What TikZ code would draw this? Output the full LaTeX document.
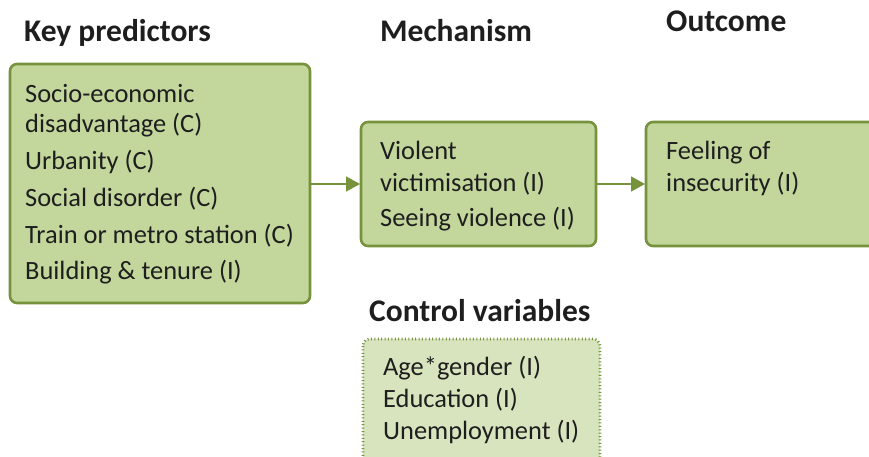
\documentclass[tikz,border=0pt]{standalone}
\usepackage{fontspec}
\setmainfont{Carlito}
\usetikzlibrary{arrows.meta}
\definecolor{boxfill}{HTML}{C3D69B}
\definecolor{boxline}{HTML}{76923C}
\definecolor{ctrlfill}{HTML}{D7E4BD}
\definecolor{ink}{HTML}{1E1E1E}
\tikzset{
  panel/.style={draw=boxline, line width=2.6pt, fill=boxfill, rounded corners=7pt},
  ctrlpanel/.style={draw=boxline, line width=2.6pt, fill=ctrlfill, rounded corners=7pt,
    dash pattern=on 1pt off 2.4pt},
  heading/.style={anchor=base west, inner sep=0pt, text=ink, font=\fontsize{31.5}{36}\selectfont\bfseries},
  item/.style={anchor=base west, inner sep=0pt, text=ink, font=\fontsize{26.4}{31}\selectfont},
  flow/.style={draw=boxline, line width=1.6pt, -{Triangle[length=14pt,width=15pt]}}
}
\begin{document}
\begin{tikzpicture}[x=1pt,y=-1pt]
\useasboundingbox (0,0) rectangle (869,457);

% headings
\node[heading] (hkey) at (24,42) {Key predictors};
\node[heading] (hmech) at (380,42) {Mechanism};
\node[heading] (hout) at (666,32) {Outcome};
\node[heading] (hctrl) at (369,321) {Control variables};

% panels
\path[panel] (10,64) rectangle (310,303);
\coordinate (keyE) at (310,184);
\path[panel] (361,122) rectangle (596,246);
\coordinate (mechW) at (361,184);
\coordinate (mechE) at (596,184);
\path[panel] (646,122) rectangle (890,246);
\coordinate (outW) at (646,184);
\path[ctrlpanel] (363,339) rectangle (600,475);

% key predictors
\node[item] (k1) at (25,103) {Socio-economic};
\node[item] (k2) at (25,133) {disadvantage (C)};
\node[item] (k3) at (25,169) {Urbanity (C)};
\node[item] (k4) at (25,206) {Social disorder (C)};
\node[item] (k5) at (25,243) {Train or metro station (C)};
\node[item] (k6) at (25,279) {Building \& tenure (I)};

% mechanism
\node[item] (m1) at (380,160) {Violent};
\node[item] (m2) at (380,191) {victimisation (I)};
\node[item] (m3) at (380,226) {Seeing violence (I)};

% outcome
\node[item] (o1) at (666,160) {Feeling of};
\node[item] (o2) at (666,191) {insecurity (I)};

% control variables
\node[item] (c1) at (383,375) {Age*gender (I)};
\node[item] (c2) at (383,407) {Education (I)};
\node[item] (c3) at (383,439) {Unemployment (I)};

% arrows
\draw[flow] (keyE) -- ([xshift=-1pt]mechW);
\draw[flow] (mechE) -- ([xshift=-1pt]outW);
\end{tikzpicture}
\end{document}
